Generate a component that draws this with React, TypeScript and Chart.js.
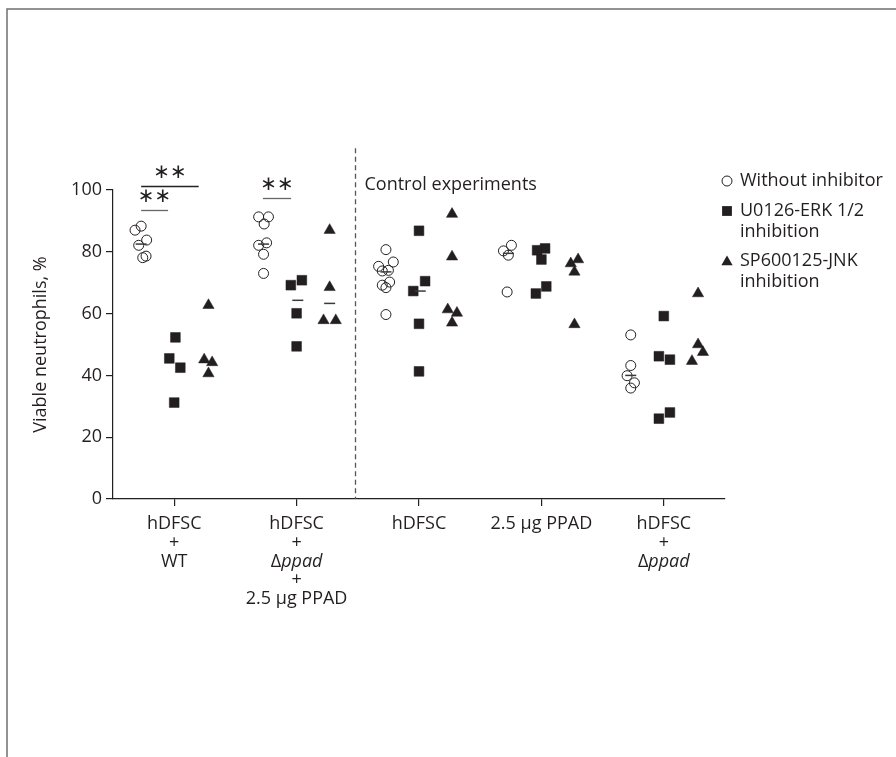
import React, { useEffect, useRef } from 'react';
import { Chart, registerables } from 'chart.js';

Chart.register(...registerables);

// ---------- data ----------
const categories: string[][] = [
  ['hDFSC', '+', 'WT'],
  ['hDFSC', '+', 'Δppad', '+', '2.5 µg PPAD'],
  ['hDFSC'],
  ['2.5 µg PPAD'],
  ['hDFSC', '+', 'Δppad'],
];

const seriesNames = ['Without inhibitor', 'U0126-ERK 1/2\ninhibition', 'SP600125-JNK\ninhibition'];

const withoutInhibitor = [
  [88.3, 87, 83.8, 82.1, 78.6, 78.1],
  [91.3, 91.3, 89, 82.9, 82.1, 79.2, 73],
  [80.7, 76.7, 75.3, 74, 73.8, 70.2, 69.2, 68.4, 59.7],
  [82.1, 80.3, 78.9, 67],
  [53.1, 43.2, 39.9, 37.6, 35.9],
];
const withoutInhibitorJitter = [
  [-0.27, -0.32, -0.225, -0.29, -0.23, -0.257],
  [-0.31, -0.23, -0.265, -0.245, -0.31, -0.27, -0.27],
  [-0.27, -0.21, -0.33, -0.25, -0.3, -0.24, -0.3, -0.27, -0.27],
  [-0.245, -0.31, -0.27, -0.28],
  [-0.27, -0.27, -0.3, -0.24, -0.27],
];

const erkInhibition = [
  [52.3, 45.5, 42.5, 31.2],
  [70.8, 69.2, 60.1, 49.4],
  [86.8, 70.5, 67.3, 56.7, 41.3],
  [81.1, 80.5, 77.5, 68.8, 66.5],
  [59.2, 46.2, 45.1, 28, 26],
];
const erkJitter = [
  [0.01, -0.04, 0.05, 0],
  [0.043, -0.047, 0, 0],
  [0, 0.05, -0.047, 0, 0],
  [0.03, -0.035, 0, 0.04, -0.045],
  [0, -0.04, 0.05, 0.05, -0.04],
];

const jnkInhibition = [
  [62.7, 45.1, 44.2, 40.6],
  [87, 68.5, 57.8, 57.8],
  [92.2, 78.4, 61.3, 60.2, 57],
  [77.5, 76.2, 73.5, 56.5],
  [66.5, 50, 47.5, 44.6],
];
const jnkJitter = [
  [0.28, 0.245, 0.31, 0.28],
  [0.27, 0.27, 0.22, 0.32],
  [0.27, 0.27, 0.235, 0.31, 0.27],
  [0.3, 0.24, 0.27, 0.27],
  [0.28, 0.28, 0.32, 0.23],
];

// group means shown as short dashes (null = hidden behind markers)
const meanWithout: (number | null)[] = [82.5, 82.5, 73.5, 79.5, 40];
const meanErk: (number | null)[] = [null, 64.3, 67.3, null, null];
const meanJnk: (number | null)[] = [null, 63.3, null, null, null];

// significance annotations: label, from x, to x, bar value, label value
const sigLabels = ['**', '**', '**'];
const sigFrom = [0.73, 0.73, 1.725];
const sigTo = [1.2, 0.95, 1.955];
const sigBar = [101.2, 93.6, 97.4];
const sigText = [105.6, 97.8, 101.6];

const yTicks = [0, 20, 40, 60, 80, 100];
const separatorAt = 2.48;
const separatorTop = 113.5;
const controlLabel = 'Control experiments';
const yTitle = 'Viable neutrophils, %';

// ---------- styles ----------
const FONT = '"Open Sans", "Noto Sans", sans-serif';
const INK = '#231f20';

function pts(vals: number[][], jit: number[][]) {
  return vals.flatMap((g, i) => g.map((v, j) => ({ x: i + 1 + jit[i][j], y: v })));
}
function meanPts(vals: (number | null)[], off: number) {
  const out: { x: number; y: number }[] = [];
  vals.forEach((v, i) => {
    if (v != null) out.push({ x: i + 1 + off, y: v });
  });
  return out;
}

function drawMarker(ctx: CanvasRenderingContext2D, kind: number, cx: number, cy: number) {
  ctx.save();
  ctx.lineWidth = 1;
  ctx.strokeStyle = INK;
  ctx.fillStyle = INK;
  ctx.beginPath();
  if (kind === 0) {
    ctx.arc(cx, cy, 5, 0, Math.PI * 2);
    ctx.stroke();
  } else if (kind === 1) {
    ctx.rect(cx - 4.9, cy - 4.9, 9.8, 9.8);
    ctx.fill();
  } else {
    const r = 6.5;
    for (let k = 0; k < 3; k++) {
      const a = (k * 2 * Math.PI) / 3;
      const px = cx + Math.sin(a) * r;
      const py = cy - Math.cos(a) * r;
      if (k === 0) ctx.moveTo(px, py);
      else ctx.lineTo(px, py);
    }
    ctx.closePath();
    ctx.fill();
  }
  ctx.restore();
}

const overlay = {
  id: 'overlay',
  afterDraw(chart: any) {
    const { ctx } = chart;
    const xs = chart.scales.x;
    const ys = chart.scales.y;
    ctx.save();

    // outer frame
    ctx.strokeStyle = '#6f6f6f';
    ctx.lineWidth = 1.5;
    ctx.beginPath();
    ctx.moveTo(7, 757);
    ctx.lineTo(7, 9);
    ctx.lineTo(896, 9);
    ctx.stroke();

    // dashed separator
    const sx = Math.round(xs.getPixelForValue(separatorAt)) + 0.5;
    ctx.strokeStyle = '#555';
    ctx.lineWidth = 1.3;
    ctx.setLineDash([5, 3.5]);
    ctx.beginPath();
    ctx.moveTo(sx, ys.getPixelForValue(separatorTop));
    ctx.lineTo(sx, ys.getPixelForValue(0));
    ctx.stroke();
    ctx.setLineDash([]);

    ctx.fillStyle = INK;
    ctx.font = `18px ${FONT}`;
    ctx.textBaseline = 'middle';
    ctx.textAlign = 'left';
    ctx.fillText(controlLabel, sx + 9, ys.getPixelForValue(101.6));

    // category labels (multi-line, "ppad" italic)
    categories.forEach((lines, i) => {
      const cx = xs.getPixelForValue(i + 1);
      lines.forEach((line, k) => {
        const ly = xs.top + 25 + k * 18.7;
        if (line.startsWith('Δ')) {
          const rest = line.slice(1);
          ctx.font = `18px ${FONT}`;
          const w1 = ctx.measureText('Δ').width;
          ctx.font = `italic 18px ${FONT}`;
          const w2 = ctx.measureText(rest).width;
          const start = cx - (w1 + w2) / 2;
          ctx.textAlign = 'left';
          ctx.font = `18px ${FONT}`;
          ctx.fillText('Δ', start, ly);
          ctx.font = `italic 18px ${FONT}`;
          ctx.fillText(rest, start + w1, ly);
        } else {
          ctx.font = `18px ${FONT}`;
          ctx.textAlign = 'center';
          ctx.fillText(line, cx, ly);
        }
      });
    });

    // significance
    sigLabels.forEach((lab, i) => {
      const x1 = xs.getPixelForValue(sigFrom[i]);
      const x2 = xs.getPixelForValue(sigTo[i]);
      const by = Math.round(ys.getPixelForValue(sigBar[i])) + 0.5;
      ctx.strokeStyle = i === 0 ? '#222' : '#666';
      ctx.lineWidth = 1.3;
      ctx.beginPath();
      ctx.moveTo(x1, by);
      ctx.lineTo(x2, by);
      ctx.stroke();
      ctx.font = `20px "DejaVu Sans", sans-serif`;
      ctx.textAlign = 'center';
      ctx.fillStyle = INK;
      ctx.fillText(lab.replace(/\*/g, '∗'), (x1 + x2) / 2, ys.getPixelForValue(sigText[i]));
    });

    // legend
    const lx = 727;
    const rows = [181, 211, 261];
    ctx.font = `18px ${FONT}`;
    ctx.textAlign = 'left';
    seriesNames.forEach((name, s) => {
      drawMarker(ctx, s, lx, rows[s] + (s === 2 ? 1 : 0));
      name.split('\n').forEach((ln, k) => {
        ctx.fillStyle = INK;
        ctx.fillText(ln, lx + 13, rows[s] + k * 21);
      });
    });

    ctx.restore();
  },
};

export default function App() {
  const ref = useRef<HTMLCanvasElement>(null);
  useEffect(() => {
    const canvas = ref.current;
    if (!canvas) return;
    const meanStyle = {
      pointStyle: 'line' as const,
      pointRadius: 5.5,
      borderColor: '#3a3a3a',
      borderWidth: 1.5,
      backgroundColor: '#3a3a3a',
      showLine: false,
    };
    const chart = new Chart(canvas, {
      type: 'scatter',
      data: {
        datasets: [
          { label: 'mean ' + seriesNames[0], data: meanPts(meanWithout, -0.27), ...meanStyle },
          { label: 'mean ' + seriesNames[1], data: meanPts(meanErk, 0.01), ...meanStyle },
          { label: 'mean ' + seriesNames[2], data: meanPts(meanJnk, 0.27), ...meanStyle },
          {
            label: seriesNames[0],
            data: pts(withoutInhibitor, withoutInhibitorJitter),
            pointStyle: 'circle',
            pointRadius: 5,
            borderColor: INK,
            borderWidth: 1,
            backgroundColor: 'rgba(255,255,255,0)',
          },
          {
            label: seriesNames[1],
            data: pts(erkInhibition, erkJitter),
            pointStyle: 'rect',
            pointRadius: 6.9,
            borderColor: INK,
            borderWidth: 0.5,
            backgroundColor: INK,
          },
          {
            label: seriesNames[2],
            data: pts(jnkInhibition, jnkJitter),
            pointStyle: 'triangle',
            pointRadius: 6.5,
            borderColor: INK,
            borderWidth: 0.5,
            backgroundColor: INK,
          },
        ],
      },
      options: {
        responsive: false,
        animation: false,
        events: [],
        layout: { padding: { left: 0, top: 190, right: 171, bottom: 0 } },
        plugins: { legend: { display: false }, tooltip: { enabled: false } },
        scales: {
          x: {
            type: 'linear',
            min: 0.5,
            max: 5.5,
            afterBuildTicks: (s: any) => {
              s.ticks = categories.map((_, i) => ({ value: i + 1 }));
            },
            afterFit: (s: any) => {
              s.height = 757 - 499;
            },
            ticks: { callback: () => '', autoSkip: false },
            grid: { drawOnChartArea: false, drawTicks: true, tickLength: 7, color: INK, lineWidth: 1.2 },
            border: { color: INK, width: 1.2 },
          },
          y: {
            min: 0,
            max: 100,
            afterBuildTicks: (s: any) => {
              s.ticks = yTicks.map((v) => ({ value: v }));
            },
            afterFit: (s: any) => {
              s.width = 113;
            },
            ticks: { font: { family: FONT, size: 18 }, color: INK, padding: 4 },
            title: {
              display: true,
              text: yTitle,
              font: { family: FONT, size: 18 },
              color: INK,
              padding: { top: 30, bottom: 0 },
            },
            grid: { drawOnChartArea: false, drawTicks: true, tickLength: 7, color: INK, lineWidth: 1.2 },
            border: { color: INK, width: 1.2 },
          },
        },
      },
      plugins: [overlay],
    });
    return () => chart.destroy();
  }, []);

  return (
    <div style={{ position: 'absolute', left: 0, top: 0, width: 896, height: 757, background: '#fff' }}>
      <canvas ref={ref} width={896} height={757} style={{ display: 'block', width: 896, height: 757 }} />
    </div>
  );
}
